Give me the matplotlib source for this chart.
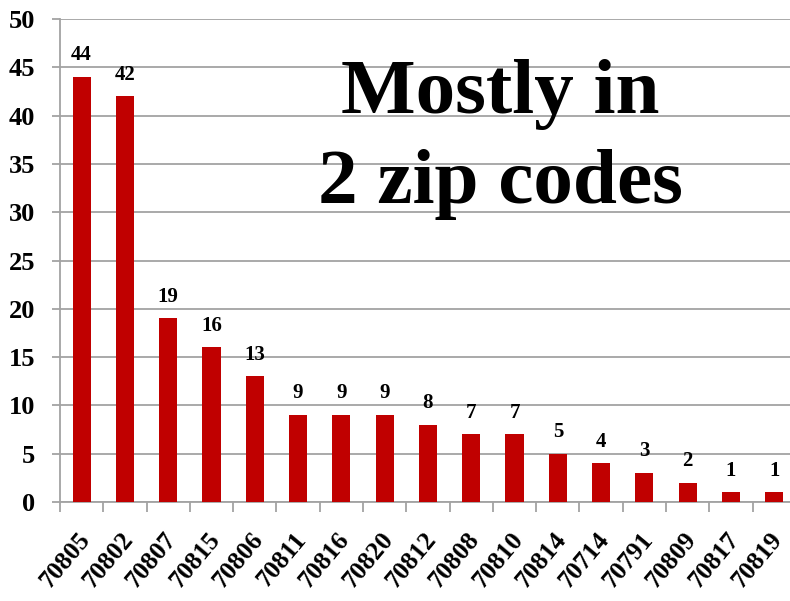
import matplotlib
matplotlib.use("Agg")
import matplotlib.pyplot as plt
import matplotlib.transforms as mtransforms
import numpy as np

zip_codes = ["70805", "70802", "70807", "70815", "70806", "70811", "70816", "70820",
             "70812", "70808", "70810", "70814", "70714", "70791", "70809", "70817", "70819"]
counts = [44, 42, 19, 16, 13, 9, 9, 9, 8, 7, 7, 5, 4, 3, 2, 1, 1]

plt.rcParams["font.family"] = ["Liberation Serif", "DejaVu Serif"]
plt.rcParams["font.weight"] = "bold"

grid_grey = "#A3A3A3"

fig = plt.figure(figsize=(7.9, 6.01), dpi=100)
ax = fig.add_axes([0.0759, 0.1647, 0.9316, 0.8037])

x = np.arange(len(zip_codes))
ax.bar(x, counts, width=0.42, color="#C00000", zorder=3)

for xi, v in zip(x, counts):
    ax.text(xi, v + 1.2, str(v), ha="center", va="bottom", fontsize=15, fontweight="bold")

ax.set_xlim(-0.5, len(zip_codes) - 0.5)
ax.set_ylim(0, 50)
ax.set_yticks(range(0, 51, 5))
ax.yaxis.grid(True, color=grid_grey, linewidth=1.3, zorder=0)
ax.tick_params(axis="y", length=6, width=1.3, color=grid_grey, labelsize=19, pad=12)

ax.set_xticks(x)
ax.set_xticklabels(zip_codes, rotation=50, ha="right", va="center",
                   rotation_mode="anchor", fontsize=18.5)
ax.set_xticks(np.arange(-0.5, len(zip_codes)), minor=True)
ax.tick_params(axis="x", which="major", length=0, pad=24)
ax.tick_params(axis="x", which="minor", length=7, width=1.3, color=grid_grey)
shift = mtransforms.ScaledTranslation(0.04, 0, fig.dpi_scale_trans)
for lbl in ax.get_xticklabels():
    lbl.set_transform(lbl.get_transform() + shift)

for side in ["top", "right"]:
    ax.spines[side].set_visible(False)
for side in ["left", "bottom"]:
    ax.spines[side].set_color(grid_grey)
    ax.spines[side].set_linewidth(1.3)

fig.text(0.633, 1 - 113 / 601, "Mostly in", ha="center", va="baseline",
         fontsize=57, fontweight="bold")
fig.text(0.633, 1 - 203 / 601, "2 zip codes", ha="center", va="baseline",
         fontsize=57, fontweight="bold")

fig.savefig("out.png", dpi=100)
